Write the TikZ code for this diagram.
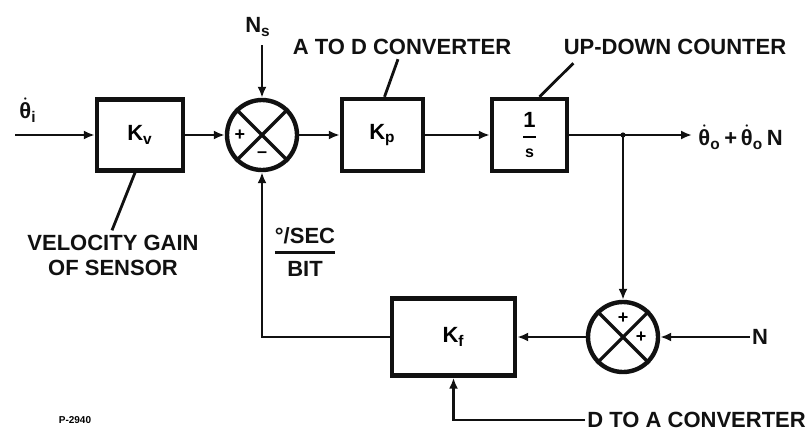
\documentclass[tikz,border=0pt]{standalone}
\usepackage{amsmath}
\usepackage{fontspec}
\setmainfont{Liberation Sans}
\usepackage{tikz}
\usetikzlibrary{arrows.meta, positioning, calc}
\definecolor{inkblack}{HTML}{111111}

\begin{document}
\begin{tikzpicture}[x=0.5pt, y=-0.5pt,
  blk/.style={draw=inkblack, line width=2.2pt, inner sep=0pt, font=\fontsize{11}{12}\selectfont\bfseries},
  sumnode/.style={circle, draw=inkblack, line width=2.2pt, minimum size=35pt, inner sep=0pt},
  sgn/.style={font=\fontsize{9}{10}\selectfont\bfseries, inner sep=0pt},
  lbl/.style={font=\fontsize{11}{12.5}\selectfont\bfseries, text=inkblack, inner sep=1pt},
  ln/.style={line width=1.4pt, draw=inkblack},
  arr/.style={ln, -{Latex[length=5.5pt, width=4.5pt]}}]
  \useasboundingbox (0,0) rectangle (812,434);
  % forward path
  \node[blk, minimum width=43pt, minimum height=35.5pt] (kv) at (140,135) {$\text{K}_\text{v}$};
  \node[sumnode] (s1) at (262,135) {};
  \node[blk, minimum width=40.5pt, minimum height=36pt] (kp) at (382.5,135) {$\text{K}_\text{p}$};
  \node[blk, minimum width=37.5pt, minimum height=36pt] (us) at (529.5,135) {$\genfrac{}{}{1pt}{0}{\text{1}}{\text{\footnotesize s}}$};
  \coordinate (inp) at (15,135);
  \coordinate (br) at (623,135);
  \coordinate (outp) at (692,135);
  \coordinate (nsT) at (262,45);
  % feedback path
  \node[blk, minimum width=61.5pt, minimum height=38.5pt] (kf) at (453.5,337) {$\text{K}_\text{f}$};
  \node[sumnode] (s2) at (623,337) {};
  % crosses and signs
  \foreach \s in {s1,s2}
    \draw[line width=1.6pt, inkblack] (\s.north west) -- (\s.south east) (\s.north east) -- (\s.south west);
  \node[sgn] (s1a) at ($(s1.center)+(-22,0)$) {+};
  \node[sgn] (s1b) at ($(s1.center)+(0,20)$) {--};
  \node[sgn] (s2a) at ($(s2.center)+(0,-19)$) {+};
  \node[sgn] (s2b) at ($(s2.center)+(18,0)$) {+};
  % labels
  \node[lbl] (thi) at (28,110) {$\dot{\text{θ}}_\text{i}$};
  \node[lbl] (ns) at (258,27) {$\text{N}_\text{s}$};
  \node[lbl] (adc) at (402,47) {A TO D CONVERTER};
  \node[lbl] (udc) at (675,47) {UP-DOWN COUNTER};
  \node[lbl, align=center] (vgs) at (113,255) {VELOCITY GAIN\\OF SENSOR};
  \node[lbl] (rate) at (305,252) {$\genfrac{}{}{1.3pt}{0}{\text{°/SEC}}{\text{BIT}}$};
  \node[lbl, anchor=west] (outl) at (696,137) {$\dot{\text{θ}}_\text{o}\,\text{+}\,\dot{\text{θ}}_\text{o}\,\text{N}$};
  \node[lbl] (nn) at (760,337) {N};
  \node[lbl, anchor=west] (dac) at (585,420) {D TO A CONVERTER};
  \node[font=\fontsize{5}{6}\selectfont\bfseries] (fig) at (75,420) {P-2940};
  % connectors
  \draw[arr] (inp) -- (kv.west);
  \draw[arr] (kv.east) -- (s1.west);
  \draw[arr] (nsT) -- (s1.north);
  \draw[arr] (s1.east) -- (kp.west);
  \draw[arr] (kp.east) -- (us.west);
  \draw[arr] (us.east) -- (outp);
  \fill[inkblack] (br) circle (1.3pt);
  \draw[arr] (br) -- (s2.north);
  \draw[arr] (nn.west) -- (s2.east);
  \draw[arr] (s2.west) -- (kf.east);
  \draw[arr] (kf.west) -| (s1.south);
  \draw[arr] (dac.west) -| (kf.south);
  % leaders
  \draw[ln] ($(adc.south)+(-4,2)$) -- ($(kp.north)+(2,0)$);
  \draw[ln] ($(udc.south west)+(12,6)$) -- ($(us.north)+(10,0)$);
  \draw[ln] ($(vgs.north)+(-1,-2)$) -- ($(kv.south)+(-5,0)$);
\end{tikzpicture}
\end{document}
